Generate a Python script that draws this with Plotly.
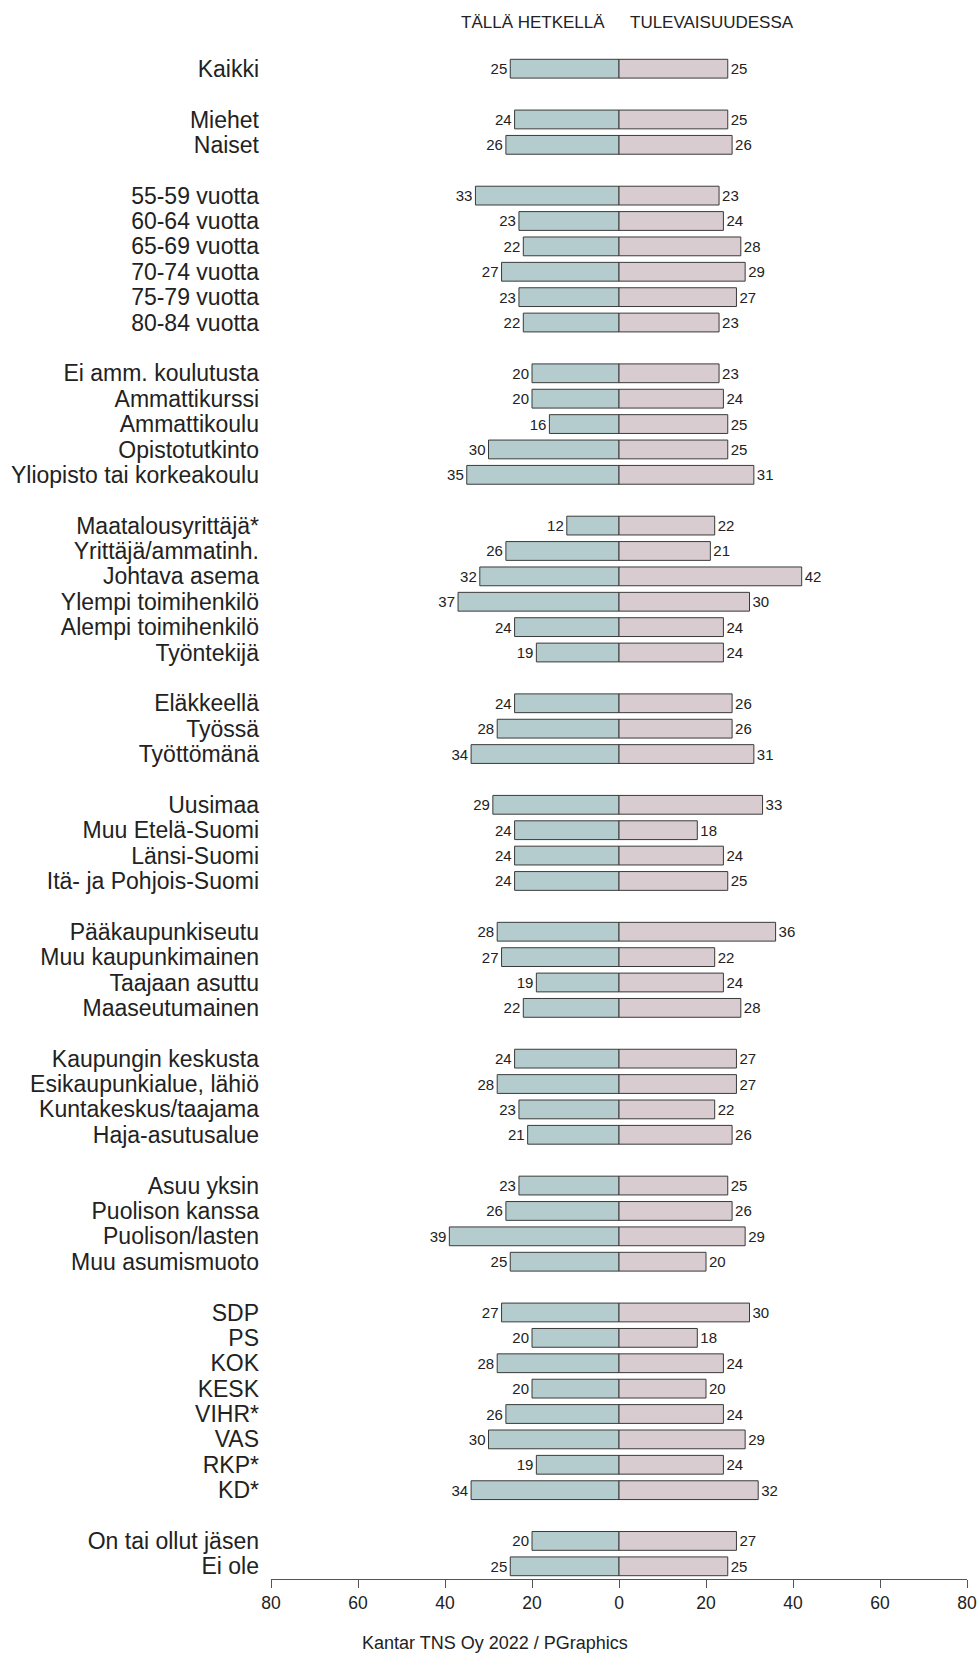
"""Butterfly bar chart: share now (TÄLLÄ HETKELLÄ) vs. in the future (TULEVAISUUDESSA)."""

import plotly.graph_objects as go

# groups of categories, a blank row is left between groups
groups = [
    ["Kaikki"],
    ["Miehet", "Naiset"],
    ["55-59 vuotta", "60-64 vuotta", "65-69 vuotta", "70-74 vuotta", "75-79 vuotta",
     "80-84 vuotta"],
    ["Ei amm. koulutusta", "Ammattikurssi", "Ammattikoulu", "Opistotutkinto",
     "Yliopisto tai korkeakoulu"],
    ["Maatalousyrittäjä*", "Yrittäjä/ammatinh.", "Johtava asema", "Ylempi toimihenkilö",
     "Alempi toimihenkilö", "Työntekijä"],
    ["Eläkkeellä", "Työssä", "Työttömänä"],
    ["Uusimaa", "Muu Etelä-Suomi", "Länsi-Suomi", "Itä- ja Pohjois-Suomi"],
    ["Pääkaupunkiseutu", "Muu kaupunkimainen", "Taajaan asuttu", "Maaseutumainen"],
    ["Kaupungin keskusta", "Esikaupunkialue, lähiö", "Kuntakeskus/taajama", "Haja-asutusalue"],
    ["Asuu yksin", "Puolison kanssa", "Puolison/lasten", "Muu asumismuoto"],
    ["SDP", "PS", "KOK", "KESK", "VIHR*", "VAS", "RKP*", "KD*"],
    ["On tai ollut jäsen", "Ei ole"],
]

now = [
    25,
    24, 26,
    33, 23, 22, 27, 23, 22,
    20, 20, 16, 30, 35,
    12, 26, 32, 37, 24, 19,
    24, 28, 34,
    29, 24, 24, 24,
    28, 27, 19, 22,
    24, 28, 23, 21,
    23, 26, 39, 25,
    27, 20, 28, 20, 26, 30, 19, 34,
    20, 25,
]

future = [
    25,
    25, 26,
    23, 24, 28, 29, 27, 23,
    23, 24, 25, 25, 31,
    22, 21, 42, 30, 24, 24,
    26, 26, 31,
    33, 18, 24, 25,
    36, 22, 24, 28,
    27, 27, 22, 26,
    25, 26, 29, 20,
    30, 18, 24, 20, 24, 29, 24, 32,
    27, 25,
]

x_ticks = [-80, -60, -40, -20, 0, 20, 40, 60, 80]
x_tick_labels = ["80", "60", "40", "20", "0", "20", "40", "60", "80"]

# row index for each label, one empty slot between groups
labels, rows = [], []
slot = 0
for g in groups:
    for name in g:
        labels.append(name)
        rows.append(slot)
        slot += 1
    slot += 1

FONT = "Liberation Sans, Arial, sans-serif"
TXT = "#222222"
EDGE = "#3a3a3a"

fig = go.Figure()
fig.add_trace(go.Bar(
    y=rows, x=[-v for v in now], orientation="h", width=0.74,
    marker=dict(color="#b4cccd", line=dict(color=EDGE, width=1)),
    text=[str(v) for v in now], textposition="outside", cliponaxis=False,
    textfont=dict(size=15, color=TXT, family=FONT), constraintext="none",
    name="TÄLLÄ HETKELLÄ", hovertemplate="%{text}<extra></extra>",
))
fig.add_trace(go.Bar(
    y=rows, x=future, orientation="h", width=0.74,
    marker=dict(color="#d8ccd1", line=dict(color=EDGE, width=1)),
    text=[str(v) for v in future], textposition="outside", cliponaxis=False,
    textfont=dict(size=15, color=TXT, family=FONT), constraintext="none",
    name="TULEVAISUUDESSA", hovertemplate="%{text}<extra></extra>",
))

for text, x in (("TÄLLÄ HETKELLÄ", -19.8), ("TULEVAISUUDESSA", 21.3)):
    fig.add_annotation(text=text, x=x, xref="x", y=1.0217, yref="paper",
                       showarrow=False, xanchor="center", yanchor="middle",
                       font=dict(size=17, color=TXT, family=FONT))

fig.add_annotation(text="Kantar TNS Oy 2022 / PGraphics", x=0.322, xref="paper",
                   y=-0.042, yref="paper", showarrow=False, xanchor="center",
                   yanchor="middle", font=dict(size=18, color=TXT, family=FONT))

fig.update_xaxes(range=[-80, 80], tickvals=x_ticks, ticktext=x_tick_labels,
                 showgrid=False, zeroline=False, showline=True, linecolor="#555555",
                 linewidth=1, ticks="outside", ticklen=8, tickcolor="#555555",
                 tickfont=dict(size=17.5, color=TXT, family=FONT), fixedrange=True,
                 automargin=False)
fig.update_yaxes(range=[rows[-1] + 0.5, -0.5], tickvals=rows, ticktext=labels,
                 showgrid=False, zeroline=False, showline=False, ticks="",
                 ticklabelstandoff=11, automargin=False,
                 tickfont=dict(size=23, color=TXT, family=FONT), fixedrange=True)
fig.update_layout(
    width=977, height=1653, barmode="overlay", showlegend=False,
    plot_bgcolor="white", paper_bgcolor="white",
    margin=dict(l=271, r=10, t=56, b=74),
    font=dict(family=FONT, color=TXT),
)

# drop the browser's default body margin so the figure sits at the page corner
fig.write_html("out.html", config={"displayModeBar": False},
               post_script="document.body.style.margin='0';")
